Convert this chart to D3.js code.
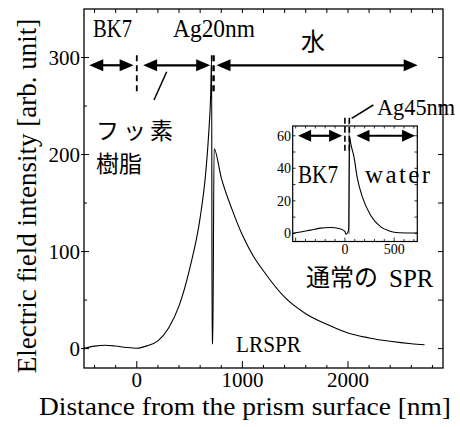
<!DOCTYPE html>
<html>
<head>
<meta charset="utf-8">
<script src="https://cdn.jsdelivr.net/npm/d3@7"></script>
<style>
  body { margin: 0; background: #fff; }
  svg { display: block; }
  .serif { font-family: "Liberation Serif", "Times New Roman", serif; fill: #000; }
  .cjk { font-family: "Noto Sans CJK JP", sans-serif; fill: #000; }
</style>
</head>
<body>
<div class="chart"></div>
<script>
// main LRSPR profile (nm, arb. unit)
const mainX = [-500, -400, -300, -200, -100, 0, 100, 200, 300, 400, 500, 600, 650, 680, 700, 709,
  713, 720, 732, 800, 900, 1000, 1100, 1200, 1400, 1600, 1800, 2000, 2200, 2400, 2600, 2725];
const mainY = [0.3, 2.5, 3.5, 2.6, 1.2, 0.4, 3, 8, 21, 44, 82, 135, 178, 220, 262, 300,
  5, 5, 206, 176, 144, 117, 96, 80, 53, 36, 25, 16, 11, 7.5, 5, 4];

// inset: normal SPR profile
const insetX = [-530, -450, -350, -250, -150, -50, 0, 10, 38, 48, 60, 92, 126, 177, 262, 364, 450, 550, 735];
const insetY = [0, 0.8, 2, 3.2, 3.6, 2.8, 1.2, -0.5, 2, 59, 55, 47, 34, 22.4, 11, 4, 1.5, 0.4, 0.2];

const xTicks = [0, 1000, 2000];
const yTicks = [0, 100, 200, 300];
const insetXTicks = [0, 500];
const insetYTicks = [0, 20, 40, 60];

// layer boundaries and arrow spans (nm)
const mainBounds = [0, 710, 730];
const mainSpans = [[-450, -30], [60, 695], [755, 2660]];
const insetBounds = [0, 45];
const insetSpans = [[-475, -28], [118, 712]];

const W = 460, H = 427;
const svg = d3.select(".chart").append("svg").attr("width", W).attr("height", H);

const x = d3.scaleLinear().domain([-500, 2900]).range([84, 443]);
const y = d3.scaleLinear().domain([-20, 350]).range([368, 9]);

const g = svg.append("g");

// frame
g.append("rect").attr("x", 84).attr("y", 9).attr("width", 443 - 84).attr("height", 368 - 9)
  .attr("fill", "none").attr("stroke", "#000").attr("stroke-width", 1.3);

// ticks
d3.range(-400, 2900, 200).forEach(v => {
  const len = v % 1000 === 0 ? 7 : 3;
  g.append("line").attr("x1", x(v)).attr("x2", x(v)).attr("y1", 368).attr("y2", 368 - len)
    .attr("stroke", "#000").attr("stroke-width", 1);
  g.append("line").attr("x1", x(v)).attr("x2", x(v)).attr("y1", 9).attr("y2", 9 + 4)
    .attr("stroke", "#000").attr("stroke-width", 1);
});
d3.range(0, 301, 50).forEach(v => {
  const major = v % 100 === 0;
  g.append("line").attr("x1", major ? 81 : 84).attr("x2", major ? 89 : 87)
    .attr("y1", y(v)).attr("y2", y(v)).attr("stroke", "#000").attr("stroke-width", 1);
  g.append("line").attr("x1", 443).attr("x2", 438).attr("y1", y(v)).attr("y2", y(v))
    .attr("stroke", "#000").attr("stroke-width", 1);
});

g.selectAll(".xt").data(xTicks).enter().append("text").attr("class", "serif")
  .attr("x", d => x(d)).attr("y", 387).attr("text-anchor", "middle")
  .attr("font-size", 21).text(d => d);
g.selectAll(".yt").data(yTicks).enter().append("text").attr("class", "serif")
  .attr("x", 80).attr("y", d => y(d) + 7).attr("text-anchor", "end")
  .attr("font-size", 21).text(d => d);

// axis titles
svg.append("text").attr("class", "serif").attr("x", 245).attr("y", 415)
  .attr("text-anchor", "middle").attr("font-size", 26)
  .attr("textLength", 412).attr("lengthAdjust", "spacingAndGlyphs")
  .text("Distance from the prism surface [nm]");
svg.append("text").attr("class", "serif")
  .attr("transform", "translate(36,196) rotate(-90)")
  .attr("text-anchor", "middle").attr("font-size", 27)
  .text("Electric field intensity [arb. unit]");

// main curve
const line = d3.line().x(d => x(d[0])).y(d => y(d[1])).curve(d3.curveMonotoneX);
g.append("path").datum(d3.zip(mainX, mainY)).attr("d", line)
  .attr("fill", "none").attr("stroke", "#000").attr("stroke-width", 1.1);

function arrow(sel, x1, x2, yy, head, half, sw) {
  sel.append("line").attr("x1", x1 + head - 1).attr("x2", x2 - head + 1)
    .attr("y1", yy).attr("y2", yy).attr("stroke", "#000").attr("stroke-width", sw);
  sel.append("path").attr("d", `M${x1},${yy}L${x1 + head},${yy - half}L${x1 + head},${yy + half}Z`);
  sel.append("path").attr("d", `M${x2},${yy}L${x2 - head},${yy - half}L${x2 - head},${yy + half}Z`);
}

// serif label squeezed to the half-width cell look of the original
function label(sel, tx, ty, str, width, adjust, size) {
  sel.append("text").attr("class", "serif").attr("x", tx).attr("y", ty).attr("font-size", size || 25)
    .attr("textLength", width).attr("lengthAdjust", adjust || "spacingAndGlyphs").text(str);
}

const ay = y(292);
mainSpans.forEach(s => arrow(g, x(s[0]), x(s[1]), ay, 14, 6, 2.2));
mainBounds.forEach(b => {
  g.append("line").attr("x1", x(b)).attr("x2", x(b)).attr("y1", ay - 10).attr("y2", ay + 27)
    .attr("stroke", "#000").attr("stroke-width", 1.8).attr("stroke-dasharray", "6,4");
});

// labels
label(g, 93, 37, "BK7", 39);
label(g, 173, 37, "Ag20nm", 82);
g.append("text").attr("class", "cjk").attr("x", 313).attr("y", 50).attr("text-anchor", "middle")
  .attr("font-size", 24).text("水");
g.append("line").attr("x1", 166.7).attr("y1", 71.7).attr("x2", 154).attr("y2", 100)
  .attr("stroke", "#000").attr("stroke-width", 1.5);
const fluo = g.append("text").attr("class", "cjk").attr("x", 96).attr("y", 138.5).attr("font-size", 23);
fluo.append("tspan").attr("x", 96).attr("letter-spacing", 4).text("フッ素");
fluo.append("tspan").attr("x", 96).attr("dy", 33.5).text("樹脂");
g.append("text").attr("class", "serif").attr("x", 236).attr("y", 352).attr("font-size", 24)
  .attr("textLength", 65).attr("lengthAdjust", "spacingAndGlyphs").text("LRSPR");

// inset
const ix = d3.scaleLinear().domain([-530, 735]).range([292.7, 417.3]);
const iy = d3.scaleLinear().domain([-5, 66]).range([241.5, 126]);
const ins = svg.append("g");
ins.append("rect").attr("x", 292.7).attr("y", 126).attr("width", 417.3 - 292.7).attr("height", 241.5 - 126)
  .attr("fill", "#fff").attr("stroke", "#000").attr("stroke-width", 1.2);
d3.range(-500, 735, 100).forEach(v => {
  ins.append("line").attr("x1", ix(v)).attr("x2", ix(v)).attr("y1", 241.5).attr("y2", 241.5 - (v % 500 === 0 ? 4 : 2.5))
    .attr("stroke", "#000").attr("stroke-width", 0.8);
  ins.append("line").attr("x1", ix(v)).attr("x2", ix(v)).attr("y1", 126).attr("y2", 128.5)
    .attr("stroke", "#000").attr("stroke-width", 0.8);
});
d3.range(0, 61, 10).forEach(v => {
  ins.append("line").attr("x1", 292.7).attr("x2", 295.5).attr("y1", iy(v)).attr("y2", iy(v))
    .attr("stroke", "#000").attr("stroke-width", 0.8);
  ins.append("line").attr("x1", 417.3).attr("x2", 414.5).attr("y1", iy(v)).attr("y2", iy(v))
    .attr("stroke", "#000").attr("stroke-width", 0.8);
});
ins.selectAll(".ixt").data(insetXTicks).enter().append("text").attr("class", "serif")
  .attr("x", d => ix(d)).attr("y", 254).attr("text-anchor", "middle").attr("font-size", 14).text(d => d);
ins.selectAll(".iyt").data(insetYTicks).enter().append("text").attr("class", "serif")
  .attr("x", 291).attr("y", d => iy(d) + 5).attr("text-anchor", "end").attr("font-size", 14).text(d => d);

ins.append("line").attr("x1", ix(42)).attr("x2", ix(42)).attr("y1", iy(-0.5)).attr("y2", 120)
  .attr("stroke", "#888").attr("stroke-width", 1.2);
const iline = d3.line().x(d => ix(d[0])).y(d => iy(d[1])).curve(d3.curveMonotoneX);
ins.append("path").datum(d3.zip(insetX, insetY)).attr("d", iline)
  .attr("fill", "none").attr("stroke", "#000").attr("stroke-width", 1.1);

const iay = iy(60);
insetSpans.forEach(s => arrow(ins, ix(s[0]), ix(s[1]), iay, 13, 6, 2.2));
insetBounds.forEach(b => {
  ins.append("line").attr("x1", ix(b)).attr("x2", ix(b)).attr("y1", iay - 18).attr("y2", iay + 18)
    .attr("stroke", "#000").attr("stroke-width", 1.6).attr("stroke-dasharray", "6,3");
});
ins.append("line").attr("x1", 351.7).attr("y1", 118.3).attr("x2", 373.3).attr("y2", 105)
  .attr("stroke", "#000").attr("stroke-width", 1.5);
label(ins, 377, 115, "Ag45nm", 78, "spacingAndGlyphs", 23);
label(ins, 298, 183, "BK7", 40);
label(ins, 365, 183, "water", 65, "spacing");
ins.append("text").attr("class", "cjk").attr("x", 306).attr("y", 286).attr("font-size", 24).text("通常の");
ins.append("text").attr("class", "serif").attr("x", 389).attr("y", 287).attr("font-size", 25).text("SPR");
</script>
</body>
</html>
